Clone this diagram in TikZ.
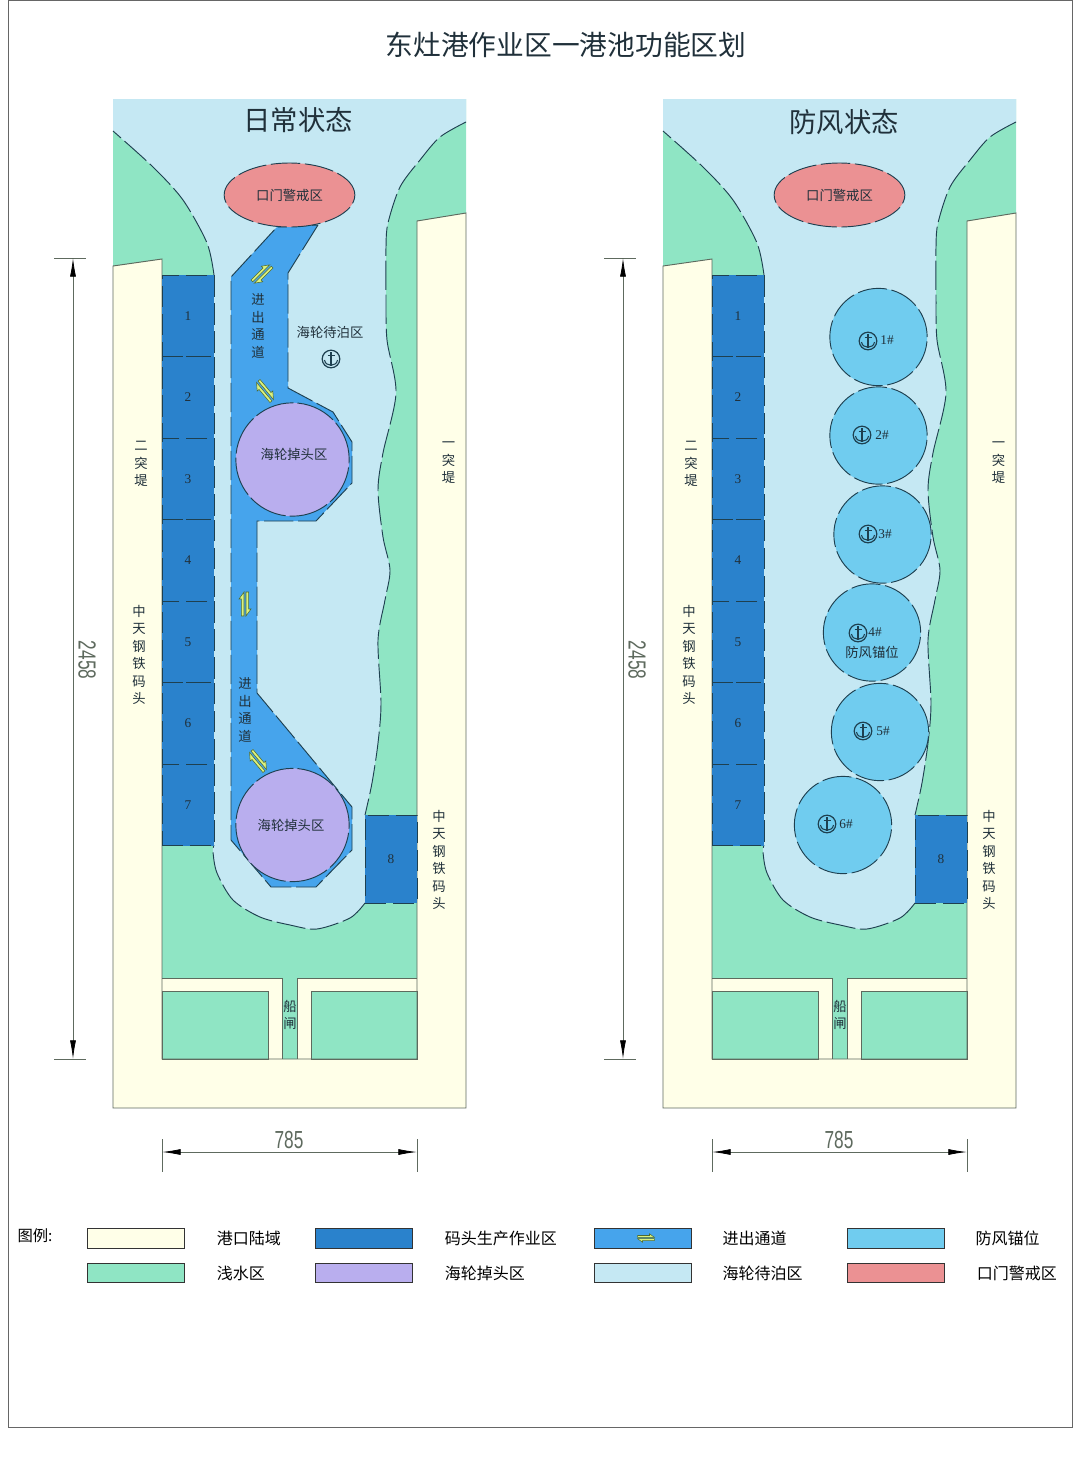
\documentclass[tikz,border=0pt]{standalone}
\usepackage{fontspec}
\setmainfont{Noto Sans CJK SC}
\newfontfamily\numfont{Liberation Serif}
\newfontfamily\dimfont[FakeStretch=0.7]{Liberation Sans}
\usetikzlibrary{arrows.meta,shapes.geometric,positioning,calc}

\definecolor{landcol}{HTML}{FFFFE8}
\definecolor{shallowcol}{HTML}{8FE5C4}
\definecolor{watercol}{HTML}{C5E8F3}
\definecolor{berthcol}{HTML}{2A82CC}
\definecolor{channelcol}{HTML}{46A4EC}
\definecolor{turncol}{HTML}{B9AEEE}
\definecolor{alertcol}{HTML}{EB9193}
\definecolor{anchorcol}{HTML}{70CCEF}
\definecolor{edgecol}{HTML}{1E4050}
\definecolor{wallcol}{HTML}{5E6A5E}
\definecolor{labcol}{HTML}{20303A}
\definecolor{shuttlecol}{HTML}{DCF27E}
\definecolor{shuttleedge}{HTML}{4E6A30}

% shore lines of the basin, shared by both panels
\newcommand{\shoreeast}{-- plot[smooth] coordinates {(466,122) (440,137) (420,160) (400,187) (388,223) (386,247) (386,297) (387,340) (396,393) (383,453) (378,490) (383,537) (390,570) (385,600) (378,640) (381,703) (378,743) (372,783) (365,815)}}
\newcommand{\shoresouth}{-- plot[smooth] coordinates {(365,903) (350,918) (317,929) (290,925) (260,917) (233,900) (217,873) (213,852) (214,845)}}
\newcommand{\shorewest}{-- plot[smooth] coordinates {(214,275) (207,243) (183,200) (153,167) (113,131)}}

\newcommand{\harbourbase}{
    \fill[landcol] (113,213) rectangle (466,1108);
    \fill[shallowcol] (113,99) -- (466,99) -- (466,213) -- (417,221) -- (417,978) -- (297,978) -- (297,1059) -- (282,1059) -- (282,978) -- (162,978) -- (162,259) -- (113,266) -- cycle;
    \fill[watercol] (113,99) -- (466,99) \shoreeast -- (365,903) \shoresouth -- (214,275) \shorewest -- cycle;
    \draw[shore] (466,122) \shoreeast;
    \draw[shore] (365,903) \shoresouth;
    \draw[shore] (214,275) \shorewest;

    \filldraw[basin] (162,991) rectangle (268,1059);
    \filldraw[basin] (311,991) rectangle (417,1059);
    \draw[wall] (113,266) -- (162,259) -- (162,1059) -- (417,1059) -- (417,221) -- (466,213) -- (466,1108) -- (113,1108) -- cycle;
    \draw[wall] (162,978) -- (282,978) -- (282,1059);
    \draw[wall] (417,978) -- (297,978) -- (297,1059);

    \node[berth] (b1) at (188,316) {1};
    \node[berth,below=0pt of b1] (b2) {2};
    \node[berth,below=0pt of b2] (b3) {3};
    \node[berth,below=0pt of b3] (b4) {4};
    \node[berth,below=0pt of b4] (b5) {5};
    \node[berth,below=0pt of b5] (b6) {6};
    \node[berth,below=0pt of b6] (b7) {7};
    \node[berth,minimum height=66pt] (b8) at (391,859) {8};

    \node[lab] (pier2) at (141,464) {二\\突\\堤};
    \node[lab] (pier1) at (448.5,463) {一\\突\\堤};
    \node[lab] (wharfw) at (139,655) {中\\天\\钢\\铁\\码\\头};
    \node[lab] (wharfe) at (439,860) {中\\天\\钢\\铁\\码\\头};
    \node[lab] (lock) at (290,1015) {船\\闸};

    \coordinate (vt) at (73,258);
    \coordinate (vb) at (73,1059);
    \draw[dimline] (54,258) -- (86,258);
    \draw[dimline] (54,1059) -- (86,1059);
    \draw[dimarrow] (vt) -- (vb);
    \node[dimtext,rotate=-90] (vlen) at (87,660) {2458};

    \coordinate (hl) at (162,1152);
    \coordinate (hr) at (417,1152);
    \draw[dimline] (162,1139) -- (162,1172);
    \draw[dimline] (417,1139) -- (417,1172);
    \draw[dimarrow] (hl) -- (hr);
    \node[dimtext] (hlen) at (289,1140) {785};
}

\begin{document}
\begin{tikzpicture}[
    x=0.75pt,y=-0.75pt,
    shore/.style={draw=edgecol,line width=0.7pt,dash pattern=on 22pt off 3.5pt},
    wall/.style={draw=wallcol,line width=0.7pt},
    basin/.style={fill=shallowcol,draw=wallcol,line width=0.7pt},
    berth/.style={rectangle,fill=berthcol,draw=edgecol,line width=0.7pt,dash pattern=on 16pt off 5pt,minimum width=39pt,minimum height=61.1pt,inner sep=0pt,outer sep=0pt,text=labcol,font=\numfont\fontsize{10}{12}\selectfont},
    lab/.style={inner sep=0pt,align=center,text=labcol,font=\fontsize{10}{13.1}\selectfont},
    head/.style={inner sep=0pt,text=labcol,font=\fontsize{20.5}{24}\selectfont},
    numlab/.style={inner sep=0pt,text=labcol,font=\numfont\fontsize{10}{12}\selectfont},
    legtext/.style={inner sep=0pt,text=black,font=\fontsize{12}{14}\selectfont},
    legbox/.style={rectangle,draw=black!80,line width=0.7pt,minimum width=73pt,minimum height=14.5pt,inner sep=0pt,outer sep=0pt},
    alertzone/.style={ellipse,fill=alertcol,draw=edgecol,line width=0.7pt,dash pattern=on 22pt off 3.5pt,minimum width=98pt,minimum height=48pt,inner sep=0pt},
    turnzone/.style={circle,fill=turncol,draw=edgecol,line width=0.7pt,dash pattern=on 30pt off 3pt,minimum size=85pt,inner sep=0pt},
    berthzone/.style={circle,fill=anchorcol,draw=edgecol,line width=0.7pt,dash pattern=on 22pt off 3.5pt,minimum size=73pt,inner sep=0pt},
    dimline/.style={draw=wallcol,line width=0.6pt},
    dimarrow/.style={draw=wallcol,line width=0.6pt,{Latex[length=14pt,width=4.5pt,color=black]}-{Latex[length=14pt,width=4.5pt,color=black]}},
    dimtext/.style={inner sep=0pt,text=wallcol,font=\dimfont\fontsize{18.5}{20}\selectfont},
    anchormark/.pic={
        \draw[edgecol,line width=0.9pt] (0,0) circle[radius=6.6pt];
        \draw[edgecol,line width=0.9pt] (0,-7) -- (0,7);
        \draw[edgecol,line width=0.8pt] (-3.5,-3.5) -- (3.5,-3.5);
        \draw[edgecol,line width=0.8pt] (-6.5,1) .. controls (-5.5,8) and (5.5,8) .. (6.5,1);
    },
    shuttle/.pic={
        \filldraw[fill=shuttlecol,draw=shuttleedge,line width=0.4pt] (-12,-3.6) -- (5,-3.6) -- (5,-6) -- (12,-1) -- (-12,-1) -- cycle;
        \filldraw[fill=shuttlecol,draw=shuttleedge,line width=0.4pt] (12,3.6) -- (-5,3.6) -- (-5,6) -- (-12,1) -- (12,1) -- cycle;
    }
]
    \useasboundingbox (0,0) rectangle (1080,1475);
    \draw[draw=black!60,line width=0.7pt] (8,0) -- (8,1427) -- (1072,1427) -- (1072,0) -- cycle;
    \node[head,font=\fontsize{20.8}{24}\selectfont] (title) at (566,45) {东灶港作业区一港池功能区划};

    % daily panel
    \harbourbase
    \filldraw[fill=channelcol,shore] (318,225) -- (288,273) -- (288,388) -- (333,412) -- (352,442) -- (352,483) -- (316,521) -- (257,521) -- (257,693) -- (352,807) -- (352,850) -- (316,887) -- (271,887) -- (231,840) -- (231,277) -- (277,227) -- cycle;
    \node[alertzone] (alert) at (289.5,195) {};
    \node[lab] (alertlab) at (alert) {口门警戒区};
    \node[turnzone] (turn1) at (292.5,459.5) {};
    \node[turnzone] (turn2) at (292.5,825) {};
    \node[lab] (turnlab1) at (294,454) {海轮掉头区};
    \node[lab] (turnlab2) at (291,825) {海轮掉头区};
    \node[head] (daily) at (298,120) {日常状态};
    \node[lab] (lane1) at (258,326) {进\\出\\通\\道};
    \node[lab] (lane2) at (245,710) {进\\出\\通\\道};
    \node[lab] (wait) at (330,332) {海轮待泊区};
    \pic at (331,359) {anchormark};
    \pic[rotate=45] at (262,274) {shuttle};
    \pic[rotate=-50] at (265,391) {shuttle};
    \pic[rotate=90] at (245,604) {shuttle};
    \pic[rotate=-50] at (258,761) {shuttle};

    % typhoon panel
    \begin{scope}[shift={(550,0)}]
        \harbourbase
    \end{scope}
    \node[alertzone] (alertb) at (839.5,195) {};
    \node[lab] (alertlabb) at (alertb) {口门警戒区};
    \node[head] (storm) at (844,122) {防风状态};

    \node[berthzone] (a1) at (878.5,337) {};
    \node[berthzone] (a2) at (878.5,435.5) {};
    \node[berthzone] (a3) at (882.5,534.5) {};
    \node[berthzone] (a4) at (872,632.5) {};
    \node[berthzone] (a5) at (880,732) {};
    \node[berthzone] (a6) at (843,825) {};
    \pic at (868,341) {anchormark};
    \pic at (862,435) {anchormark};
    \pic at (868,534) {anchormark};
    \pic at (858,633) {anchormark};
    \pic at (863,731) {anchormark};
    \pic at (827,824) {anchormark};
    \node[numlab] (n1) at (887,340) {1\#};
    \node[numlab] (n2) at (882,435) {2\#};
    \node[numlab] (n3) at (885,534) {3\#};
    \node[numlab] (n4) at (875,632) {4\#};
    \node[numlab] (n5) at (883,731) {5\#};
    \node[numlab] (n6) at (846,824) {6\#};
    \node[lab] (anchlab) at (872,652) {防风锚位};

    % legend
    \node[legtext,font=\fontsize{11.5}{13}\selectfont] (legtitle) at (35,1236) {图例:};
    \node[legbox,fill=landcol] (l1) at (136,1238.5) {};
    \node[legbox,fill=berthcol] (l2) at (364,1238.5) {};
    \node[legbox,fill=channelcol] (l3) at (643,1238.5) {};
    \node[legbox,fill=anchorcol] (l4) at (896,1238.5) {};
    \node[legbox,fill=shallowcol] (l5) at (136,1273) {};
    \node[legbox,fill=turncol] (l6) at (364,1273) {};
    \node[legbox,fill=watercol] (l7) at (643,1273) {};
    \node[legbox,fill=alertcol] (l8) at (896,1273) {};
    \pic[scale=0.7] at (646,1238) {shuttle};
    \node[legtext,right=24pt of l1] (t1) {港口陆域};
    \node[legtext,right=24pt of l2] (t2) {码头生产作业区};
    \node[legtext,right=23pt of l3] (t3) {进出通道};
    \node[legtext,right=23pt of l4] (t4) {防风锚位};
    \node[legtext,right=24pt of l5] (t5) {浅水区};
    \node[legtext,right=24pt of l6] (t6) {海轮掉头区};
    \node[legtext,right=23pt of l7] (t7) {海轮待泊区};
    \node[legtext,right=24pt of l8] (t8) {口门警戒区};
\end{tikzpicture}
\end{document}
